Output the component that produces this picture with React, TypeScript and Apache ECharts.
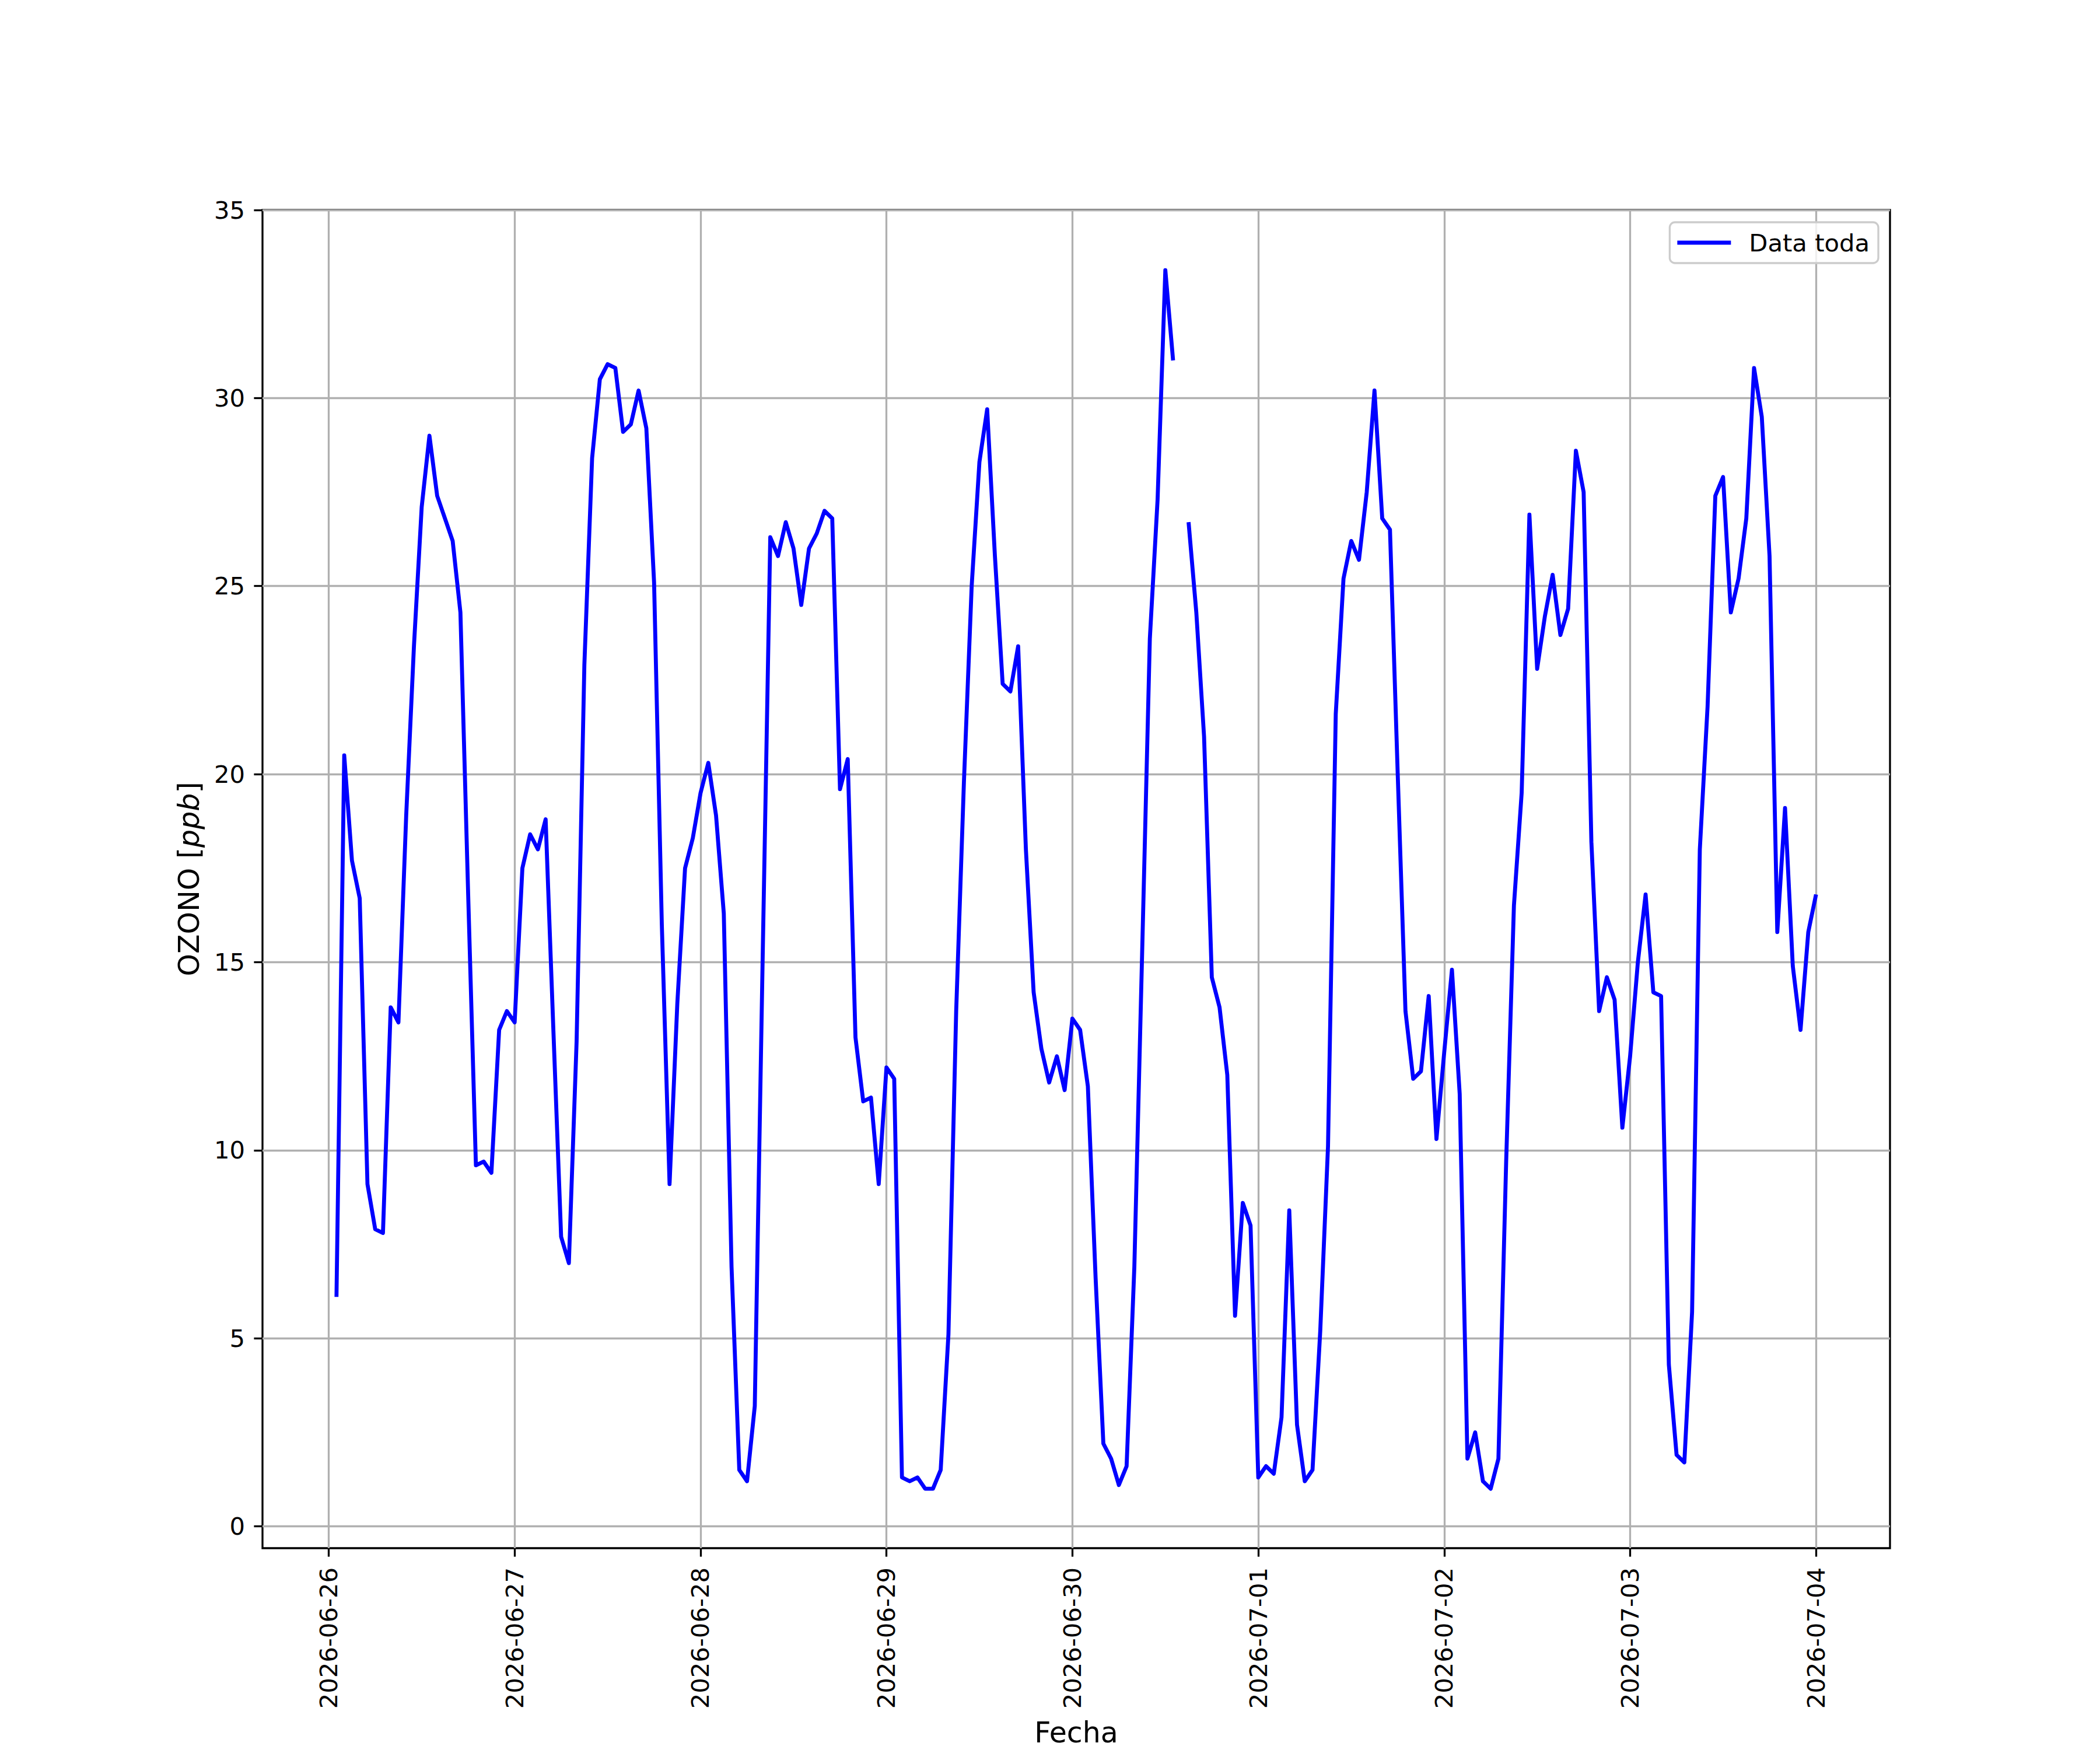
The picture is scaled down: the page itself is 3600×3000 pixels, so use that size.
import React, { useEffect, useRef } from "react";
import * as echarts from "echarts";

// Hourly ozone readings (ppb), one array per day; hour 1 of 2026-06-26 through 00:00 of 2026-07-04
const day1 = [6.1, 20.5, 17.7, 16.7, 9.1, 7.9, 7.8, 13.8, 13.4, 18.9, 23.4, 27.1, 29.0, 27.4, 26.8, 26.2, 24.3, 16.8, 9.6, 9.7, 9.4, 13.2, 13.7, 13.4];
const day2 = [17.5, 18.4, 18.0, 18.8, 13.2, 7.7, 7.0, 12.9, 22.9, 28.4, 30.5, 30.9, 30.8, 29.1, 29.3, 30.2, 29.2, 25.1, 16.0, 9.1, 13.9, 17.5, 18.3, 19.5];
const day3 = [20.3, 18.9, 16.3, 6.9, 1.5, 1.2, 3.2, 14.9, 26.3, 25.8, 26.7, 26.0, 24.5, 26.0, 26.4, 27.0, 26.8, 19.6, 20.4, 13.0, 11.3, 11.4, 9.1, 12.2];
const day4 = [11.9, 1.3, 1.2, 1.3, 1.0, 1.0, 1.5, 5.1, 13.7, 19.8, 25.0, 28.3, 29.7, 25.8, 22.4, 22.2, 23.4, 18.0, 14.2, 12.7, 11.8, 12.5, 11.6, 13.5];
const day5 = [13.2, 11.7, 6.6, 2.2, 1.8, 1.1, 1.6, 6.9, 15.2, 23.6, 27.3, 33.4, 31.0, null, 26.7, 24.3, 21.0, 14.6, 13.8, 12.0, 5.6, 8.6, 8.0, 1.3];
const day6 = [1.6, 1.4, 2.9, 8.4, 2.7, 1.2, 1.5, 5.2, 10.1, 21.6, 25.2, 26.2, 25.7, 27.5, 30.2, 26.8, 26.5, 20.0, 13.7, 11.9, 12.1, 14.1, 10.3, 12.6];
const day7 = [14.8, 11.5, 1.8, 2.5, 1.2, 1.0, 1.8, 9.7, 16.5, 19.5, 26.9, 22.8, 24.2, 25.3, 23.7, 24.4, 28.6, 27.5, 18.2, 13.7, 14.6, 14.0, 10.6, 12.5];
const day8 = [15.0, 16.8, 14.2, 14.1, 4.3, 1.9, 1.7, 5.7, 18.0, 21.8, 27.4, 27.9, 24.3, 25.2, 26.8, 30.8, 29.5, 25.8, 15.8, 19.1, 14.9, 13.2, 15.8, 16.8];

const dayLabels = ["2026-06-26", "2026-06-27", "2026-06-28", "2026-06-29", "2026-06-30", "2026-07-01", "2026-07-02", "2026-07-03", "2026-07-04"];
const yTicks = [0, 5, 10, 15, 20, 25, 30, 35];
const seriesName = "Data toda";

export default function App() {
  const ref = useRef<HTMLDivElement>(null);
  useEffect(() => {
    if (!ref.current) return;
    const chart = echarts.init(ref.current, undefined, { renderer: "svg" });
    const values = [...day1, ...day2, ...day3, ...day4, ...day5, ...day6, ...day7, ...day8];
    // x in hours since 2026-06-26 00:00
    const data = values.map((v, i) => [i + 1, v]);
    const first = 1;
    const last = values.length;
    const margin = (last - first) * 0.05;
    const xTicks = dayLabels.map((_, i) => i * 24);
    const font = "DejaVu Sans";
    const fs = 41.7;
    const nameFs = 49;
    const lineW = 6.8;
    chart.setOption({
      animation: false,
      backgroundColor: "#ffffff",
      textStyle: { fontFamily: font },
      grid: {
        left: 450,
        right: 360,
        top: 360,
        bottom: 330,
        show: true,
        borderColor: "#000000",
        borderWidth: 3.3,
        backgroundColor: "transparent",
        containLabel: false,
      },
      legend: {
        right: 380,
        top: 381,
        padding: [14, 15, 14, 13],
        itemWidth: 92,
        itemHeight: lineW,
        icon: "rect",
        backgroundColor: "rgba(255,255,255,0.8)",
        borderColor: "#cccccc",
        borderWidth: 3.3,
        borderRadius: 9,
        itemStyle: { color: "#0000ff" },
        textStyle: { fontSize: fs, color: "#000000", fontFamily: font, padding: [0, 0, 0, 26] },
        data: [{ name: seriesName, icon: "rect" }],
      },
      xAxis: {
        type: "value",
        min: first - margin,
        max: last + margin,
        name: "Fecha",
        nameLocation: "middle",
        nameGap: 292,
        nameTextStyle: { fontSize: nameFs, color: "#000000", fontFamily: font },
        axisLine: { show: false, onZero: false },
        axisTick: { show: true, length: 14.6, lineStyle: { color: "#000000", width: 3.3 }, customValues: xTicks },
        axisLabel: {
          customValues: xTicks,
          rotate: 90,
          margin: 33,
          fontSize: fs,
          color: "#000000",
          fontFamily: font,
          hideOverlap: false,
          formatter: (v: number) => dayLabels[Math.round(v / 24)] ?? "",
        },
        splitLine: { show: true, lineStyle: { color: "#b0b0b0", width: 3.3 } },
      },
      yAxis: {
        type: "value",
        min: -0.58,
        max: 35,
        name: "OZONO [{i|ppb}]",
        nameLocation: "middle",
        nameGap: 101,
        nameTextStyle: {
          fontSize: nameFs,
          color: "#000000",
          fontFamily: font,
          rich: { i: { fontSize: nameFs, fontStyle: "italic", color: "#000000", fontFamily: font } },
        },
        axisLine: { show: false, onZero: false },
        axisTick: { show: true, length: 14.6, lineStyle: { color: "#000000", width: 3.3 }, customValues: yTicks },
        axisLabel: {
          customValues: yTicks,
          margin: 30,
          fontSize: fs,
          color: "#000000",
          fontFamily: font,
          formatter: (v: number) => String(v),
        },
        splitLine: { show: true, lineStyle: { color: "#b0b0b0", width: 3.3 } },
      },
      series: [
        {
          name: seriesName,
          type: "line",
          data,
          symbol: "none",
          connectNulls: false,
          lineStyle: { color: "#0000ff", width: lineW, join: "round" },
          itemStyle: { color: "#0000ff" },
        },
      ],
    });
    return () => chart.dispose();
  }, []);
  return <div ref={ref} style={{ position: "absolute", left: 0, top: 0, width: 3600, height: 3000 }} />;
}
